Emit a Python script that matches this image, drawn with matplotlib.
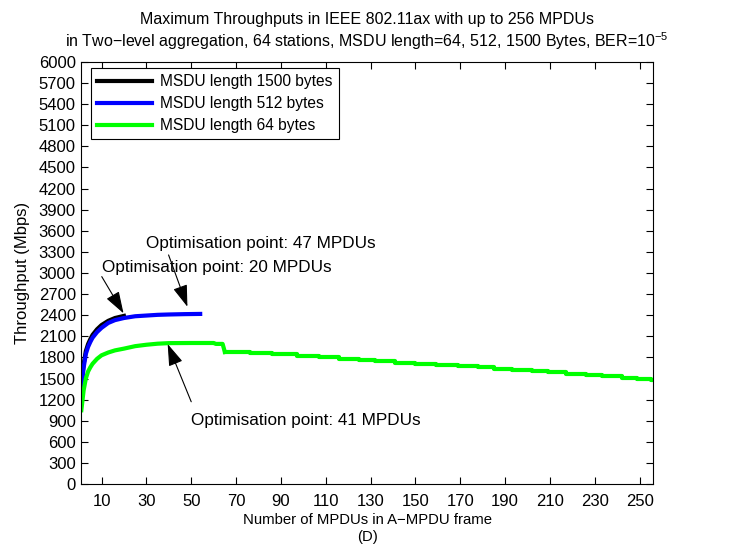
import numpy as np
import matplotlib
matplotlib.use("Agg")
import matplotlib.pyplot as plt

plt.rcParams['font.family'] = ['Liberation Sans', 'DejaVu Sans']
plt.rcParams['mathtext.fontset'] = 'custom'
plt.rcParams['mathtext.rm'] = 'Liberation Sans'

# MSDU length 1500 bytes (only up to 20 MPDUs)
x_1500 = [1, 2, 3, 4, 5, 6, 8, 10, 13, 16, 20]
y_1500 = [1400, 1700, 1890, 1990, 2060, 2120, 2200, 2260, 2320, 2360, 2390]

# MSDU length 512 bytes (up to 54 MPDUs)
x_512 = [1, 2, 3, 4, 5, 6, 8, 10, 13, 16, 20, 25, 30, 35, 40, 47, 54]
y_512 = [1340, 1650, 1850, 1950, 2020, 2080, 2160, 2220, 2290, 2330, 2360,
         2385, 2395, 2405, 2410, 2415, 2418]

# MSDU length 64 bytes, rising part up to 64 MPDUs
x_64_rise = [1, 2, 3, 4, 5, 6, 8, 10, 13, 16, 20, 25, 30, 35, 40, 50, 60, 61, 64]
y_64_rise = [1050, 1330, 1500, 1600, 1660, 1710, 1780, 1830, 1870, 1900, 1925,
             1960, 1980, 1995, 2003, 2005, 2005, 1992, 1992]

# MSDU length 64 bytes, staircase tail after 64 MPDUs
x_64_tail = [65, 76, 86, 97, 107, 116, 125, 132, 141, 150, 159, 169, 178, 185,
             193, 202, 209, 217, 226, 233, 242, 249, 255, 256]
y_64_tail = [1877, 1858, 1844, 1824, 1806, 1782, 1763, 1745, 1725, 1711, 1697,
             1678, 1659, 1639, 1621, 1602, 1588, 1568, 1550, 1531, 1511, 1497,
             1479, 1479]

fig = plt.figure(figsize=(7.43, 5.52), dpi=100)
ax = fig.add_axes([0.1095, 0.123, 0.7695, 0.765])

lw = 3
ax.plot(x_1500, y_1500, color='black', lw=lw, label='MSDU length 1500 bytes')
ax.plot(x_512, y_512, color='#0000ff', lw=lw, label='MSDU length 512 bytes')
ax.plot(x_64_rise + x_64_tail[:1], y_64_rise + y_64_tail[:1], color='#00ff00', lw=lw,
        label='MSDU length 64 bytes')
ax.plot(x_64_tail, y_64_tail, color='#00ff00', lw=lw, drawstyle='steps-post')

ax.set_xlim(1, 256)
ax.set_ylim(0, 6000)
ax.set_xticks(np.arange(10, 251, 20))
ax.set_yticks(np.arange(0, 6001, 300))
ax.tick_params(direction='in', top=True, right=True, labelsize=12, length=5)
ax.tick_params(axis='x', pad=7)
ax.tick_params(axis='y', pad=4)

ax.set_xlabel('Number of MPDUs in A\u2212MPDU frame\n(D)', fontsize=10.7, labelpad=3,
              linespacing=1.3)
ax.set_ylabel('Throughput (Mbps)', fontsize=12, labelpad=6)
ax.set_title('Maximum Throughputs in IEEE 802.11ax with up to 256 MPDUs\n'
             'in Two\u2212level aggregation, 64 stations, MSDU length=64, 512, 1500 Bytes, BER=10$^{-5}$',
             fontsize=11.5, pad=11)

leg = ax.legend(loc='upper left', bbox_to_anchor=(0.017, 0.986), fontsize=11.2,
                handlelength=3.5, fancybox=False, edgecolor='black', framealpha=1,
                borderaxespad=0, labelspacing=0.45, handletextpad=0.55)
leg.get_frame().set_linewidth(0.8)

arrow = dict(arrowstyle='-|>,head_length=0.9,head_width=0.3', color='black',
             lw=0.8, mutation_scale=15, shrinkA=0, shrinkB=0)
ax.annotate('', xy=(48.3, 2520), xytext=(39.9, 3256), arrowprops=arrow)
ax.text(29.9, 3422, 'Optimisation point: 47 MPDUs', fontsize=12.3, va='center')
ax.annotate('', xy=(19.8, 2427), xytext=(10.1, 2948), arrowprops=arrow)
ax.text(10.1, 3081, 'Optimisation point: 20 MPDUs', fontsize=12.3, va='center')
ax.annotate('', xy=(39.5, 1990), xytext=(50.0, 1170), arrowprops=arrow)
ax.text(50.1, 910, 'Optimisation point: 41 MPDUs', fontsize=12.3, va='center')

fig.savefig('out.png', dpi=100)
